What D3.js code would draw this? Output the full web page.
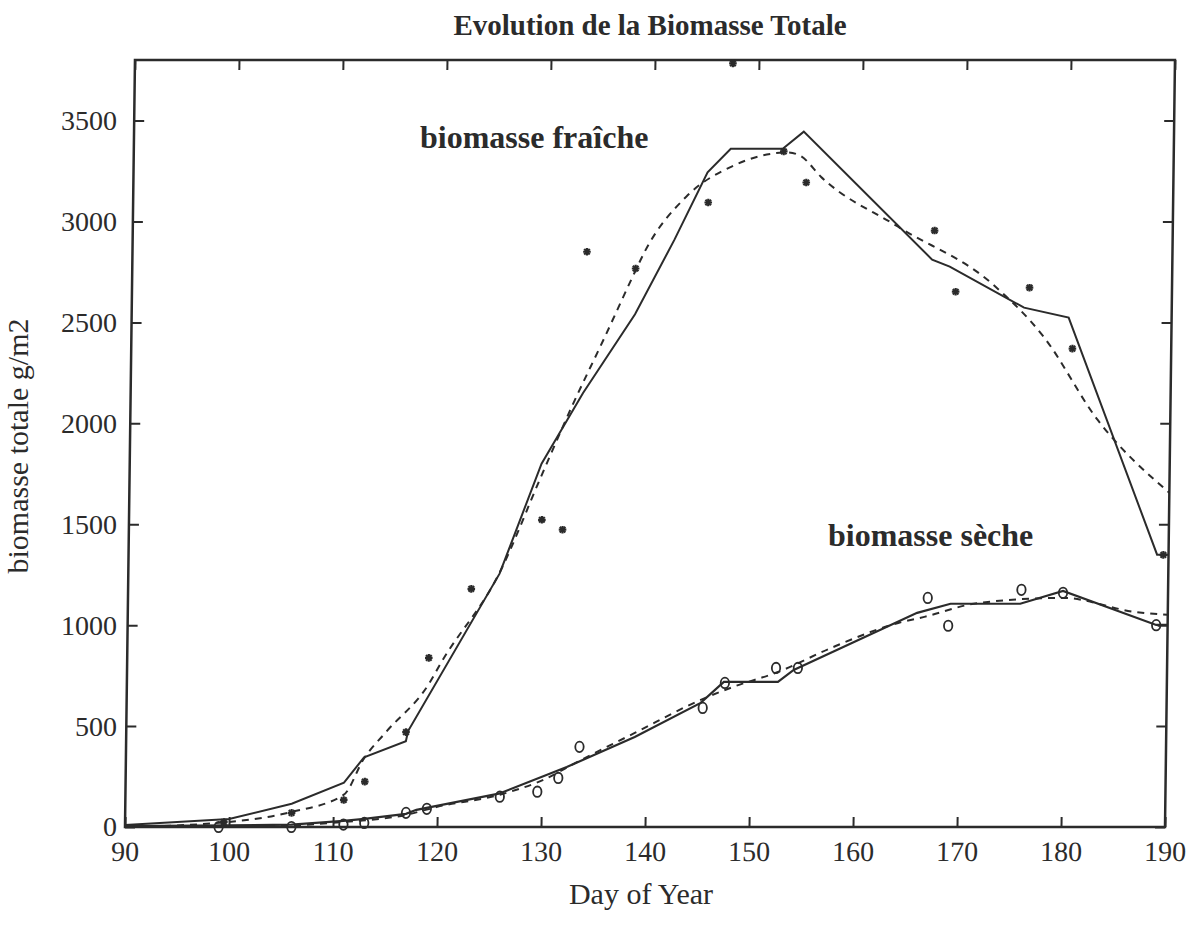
<!DOCTYPE html>
<html><head><meta charset="utf-8">
<script src="https://cdn.jsdelivr.net/npm/d3@7"></script>
<style>body{margin:0;background:#fff}svg text{font-family:"Liberation Serif","Times New Roman",serif;fill:#2b2b2b}</style>
</head><body><svg id="c" width="1201" height="935"></svg>
<script>
// ---- data ----
const xTicks = [90,100,110,120,130,140,150,160,170,180,190];
const yTicks = [0,500,1000,1500,2000,2500,3000,3500];

const freshObsDay = [99.5,106,111,113,116.9,119,123,129.7,131.7,133.7,138.4,145.3,147.5,152.5,154.7,167.1,169.2,176.3,180.5,189.5];
const freshObs    = [25,70,134,225,470,838,1180,1522,1473,2850,2767,3094,3783,3347,3193,2955,2652,2672,2370,1348];

const freshModel1Day = [90,100,106,111,112.9,116.9,117.1,125.7,129.6,133.5,138.4,142.1,145.2,147.4,152.4,154.4,166.9,168.6,175.8,180.1,188.9,190];
const freshModel1    = [10,40,115,220,345,425,475,1255,1800,2150,2540,2910,3243,3360,3360,3445,2811,2776,2573,2524,1349,1349];

const freshModel2Day = [90,100,106,111,112.9,114.9,119.1,120.2,125.7,129.6,132.5,135.4,138.3,139.2,143.2,147.5,152.9,154.2,156.1,163.55,172.8,177.7,183,190];
const freshModel2    = [0,25,75,160,340,466,714,815,1260,1740,2090,2414,2746,2845,3124,3272,3342,3322,3222,2975,2687,2430,2018,1656];

const dryObsDay = [99,106,111,113,117,119,126,129.6,131.6,133.6,145.4,147.5,152.4,154.5,166.9,168.9,175.9,179.9,188.9];
const dryObs    = [0,0,12,20,70,90,150,175,243,397,590,714,788,788,1135,997,1175,1160,1000];

const dryModel1Day = [90,100,106,111,113,117,118,125.9,132.4,138.9,145.2,147.4,152.6,154.1,165.9,169.1,175.8,179.9,188.9,190];
const dryModel1    = [5,8,12,30,40,65,85,165,297,446,615,719,719,778,1061,1106,1106,1170,1001,1001];

const dryModel2Day = [90,100,106,111,117,120,126,130,133.5,138.9,145.2,148.3,152.6,157.8,164.1,166.6,171.8,179.9,186.8,190];
const dryModel2    = [0,3,8,25,60,100,160,230,325,466,630,694,768,890,1011,1041,1110,1135,1066,1051];

const titleText = "Evolution de la Biomasse Totale";
const xLabel = "Day of Year";
const yLabel = "biomasse totale g/m2";
const freshLabel = "biomasse fraîche";
const dryLabel = "biomasse sèche";

// ---- drawing ----
const svg = d3.select("#c");
const ink = "#2b2b2b";
const x = d3.scaleLinear().domain([90,190]).range([125,1165]);
const y = d3.scaleLinear().domain([0,3800]).range([827,60]);
const shear = 0.013;
const g = svg.append("g").attr("transform", `matrix(1,0,${-shear},1,${shear*827},0)`);

const zip = (a,b)=>a.map((d,i)=>[d,b[i]]);

// frame
g.append("rect").attr("x",x(90)).attr("y",y(3800)).attr("width",x(190)-x(90)).attr("height",y(0)-y(3800))
  .attr("fill","none").attr("stroke",ink).attr("stroke-width",2.5);

function styleAxis(sel){
  sel.select(".domain").remove();
  sel.selectAll(".tick line").attr("stroke",ink).attr("stroke-width",2);
  sel.selectAll(".tick text").attr("fill",ink).style("font-size","28px").style("font-family","Liberation Serif");
}
g.append("g").attr("transform",`translate(0,${y(0)})`)
  .call(d3.axisBottom(x).tickValues(xTicks).tickSize(-10).tickPadding(14).tickFormat(d3.format("d")))
  .call(styleAxis);
g.append("g").attr("transform",`translate(0,${y(3800)})`)
  .call(d3.axisTop(x).tickValues(xTicks).tickSize(-10).tickFormat(""))
  .call(styleAxis);
g.append("g").attr("transform",`translate(${x(90)},0)`)
  .call(d3.axisLeft(y).tickValues(yTicks).tickSize(-10).tickFormat(""))
  .call(styleAxis);
g.append("g").attr("transform",`translate(${x(190)},0)`)
  .call(d3.axisRight(y).tickValues(yTicks).tickSize(-10).tickFormat(""))
  .call(styleAxis);
// y tick labels (printed unsheared)
svg.append("g").attr("transform",`translate(${x(90)},0)`)
  .call(d3.axisLeft(y).tickValues(yTicks).tickSize(0).tickPadding(8).tickFormat(d3.format("d")))
  .call(styleAxis);

const line = d3.line().x(d=>x(d[0])).y(d=>y(d[1]));
const smooth = d3.line().x(d=>x(d[0])).y(d=>y(d[1])).curve(d3.curveMonotoneX);

g.append("path").datum(zip(freshModel1Day,freshModel1)).attr("d",line)
  .attr("fill","none").attr("stroke",ink).attr("stroke-width",2);
g.append("path").datum(zip(freshModel2Day,freshModel2)).attr("d",smooth)
  .attr("fill","none").attr("stroke",ink).attr("stroke-width",2).attr("stroke-dasharray","7,6");
g.append("path").datum(zip(dryModel1Day,dryModel1)).attr("d",line)
  .attr("fill","none").attr("stroke",ink).attr("stroke-width",2.2);
g.append("path").datum(zip(dryModel2Day,dryModel2)).attr("d",smooth)
  .attr("fill","none").attr("stroke",ink).attr("stroke-width",2).attr("stroke-dasharray","7,6");

// star markers
const star = g.append("g").selectAll("g").data(zip(freshObsDay,freshObs)).join("g")
  .attr("transform",d=>`translate(${x(d[0])},${y(d[1])})`);
[[-3.8,0,3.8,0],[0,-3.8,0,3.8],[-2.8,-2.8,2.8,2.8],[-2.8,2.8,2.8,-2.8]].forEach(s=>{
  star.append("line").attr("x1",s[0]).attr("y1",s[1]).attr("x2",s[2]).attr("y2",s[3])
    .attr("stroke",ink).attr("stroke-width",2.2);
});
// circle markers
g.append("g").selectAll("ellipse").data(zip(dryObsDay,dryObs)).join("ellipse")
  .attr("cx",d=>x(d[0])).attr("cy",d=>y(d[1])).attr("rx",4.2).attr("ry",5.2)
  .attr("fill","none").attr("stroke",ink).attr("stroke-width",1.8);

// annotations
svg.append("text").attr("x",420).attr("y",148).text(freshLabel)
  .style("font-size","32px").style("font-weight","bold");
svg.append("text").attr("x",828).attr("y",546).text(dryLabel)
  .style("font-size","32px").style("font-weight","bold");

// titles
svg.append("text").attr("x",650).attr("y",35).attr("text-anchor","middle").text(titleText)
  .style("font-size","29px").style("font-weight","bold");
svg.append("text").attr("x",641).attr("y",904).attr("text-anchor","middle").text(xLabel)
  .style("font-size","30px");
svg.append("text").attr("transform","translate(28,446) rotate(-90)").attr("text-anchor","middle").text(yLabel)
  .style("font-size","30px");
</script></body></html>
